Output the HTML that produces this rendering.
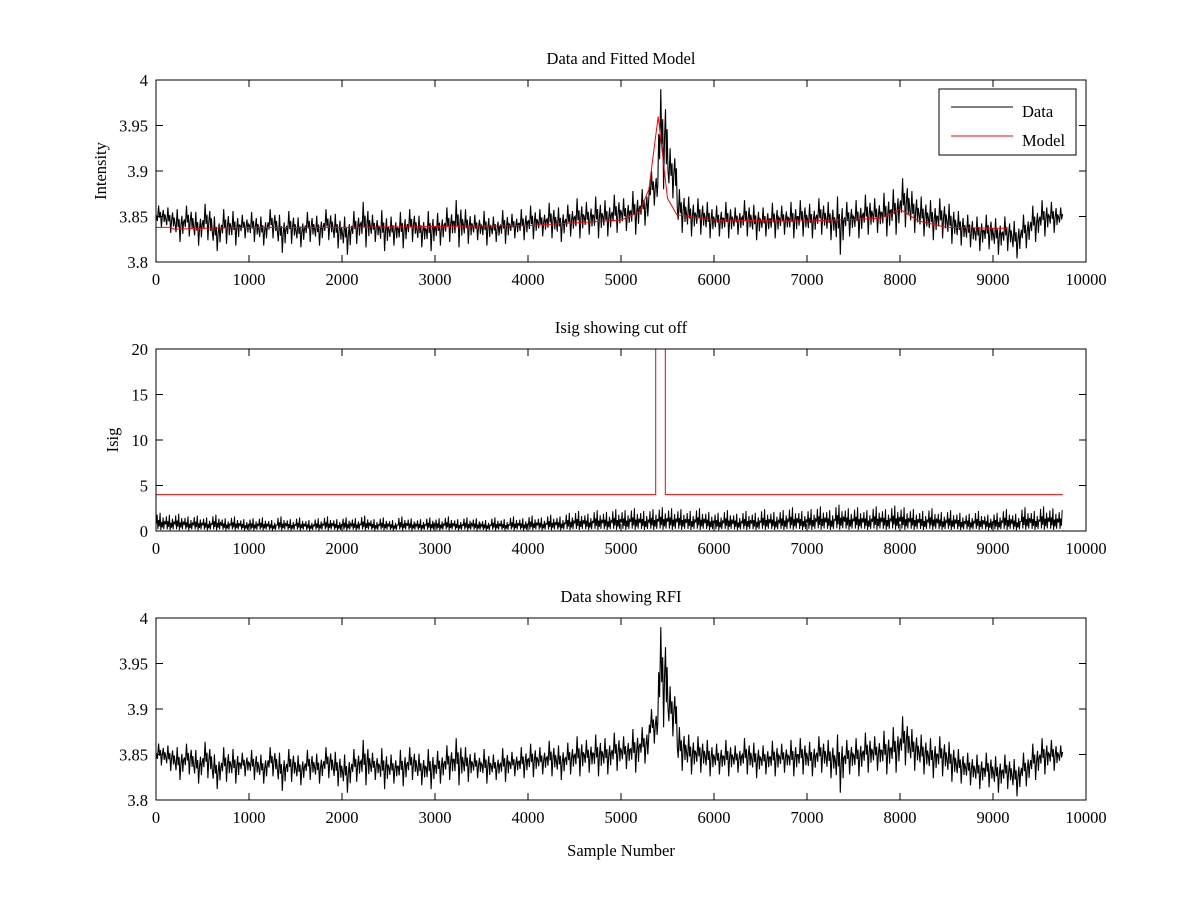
<!DOCTYPE html>
<html><head><meta charset="utf-8"><style>
body{margin:0;background:#fff}
svg text{font-family:"Liberation Serif",serif;font-size:16.5px;fill:#000}
</style></head><body>
<svg id="fig" width="1200" height="900" xmlns="http://www.w3.org/2000/svg"></svg>
<script>
// Data: per 100-sample block, local high and low of the intensity signal
const blockStart = 0, blockSize = 100;
const dataHi = [3.862,3.860,3.858,3.862,3.855,3.864,3.850,3.858,3.856,3.852,
3.855,3.850,3.858,3.852,3.856,3.849,3.855,3.851,3.858,3.853,
3.850,3.856,3.866,3.852,3.857,3.850,3.855,3.858,3.851,3.856,
3.854,3.860,3.868,3.858,3.852,3.856,3.850,3.857,3.853,3.858,
3.862,3.858,3.865,3.860,3.863,3.870,3.866,3.872,3.868,3.874,
3.870,3.878,3.880,3.900,3.990,3.925,3.880,3.872,3.870,3.866,
3.862,3.866,3.860,3.868,3.863,3.860,3.865,3.862,3.866,3.868,
3.864,3.870,3.866,3.872,3.866,3.868,3.874,3.870,3.876,3.880,
3.892,3.878,3.872,3.868,3.870,3.864,3.856,3.852,3.850,3.852,
3.848,3.850,3.845,3.852,3.862,3.868,3.866,3.860];
const dataLo = [3.838,3.832,3.822,3.828,3.818,3.824,3.812,3.820,3.818,3.826,
3.822,3.818,3.826,3.810,3.820,3.816,3.822,3.818,3.824,3.815,
3.808,3.820,3.816,3.822,3.812,3.818,3.815,3.822,3.816,3.812,
3.818,3.822,3.816,3.820,3.824,3.818,3.822,3.820,3.826,3.824,
3.825,3.828,3.826,3.822,3.828,3.826,3.830,3.826,3.828,3.832,
3.834,3.830,3.840,3.862,3.880,3.870,3.832,3.828,3.830,3.826,
3.828,3.826,3.830,3.828,3.824,3.828,3.826,3.830,3.826,3.828,
3.826,3.830,3.824,3.808,3.828,3.826,3.830,3.832,3.828,3.830,
3.838,3.832,3.828,3.824,3.826,3.820,3.818,3.816,3.812,3.814,
3.808,3.812,3.804,3.815,3.822,3.828,3.832,3.836];
const modelX = [0,150,200,500,1000,2000,3000,4000,4500,5000,5200,5300,5400,5500,5600,6000,7000,7800,8000,8200,8500,9000,9150];
const modelY = [3.838,3.838,3.836,3.837,3.838,3.838,3.839,3.840,3.843,3.846,3.855,3.880,3.960,3.870,3.852,3.846,3.845,3.848,3.858,3.845,3.838,3.837,3.837];
const isigHi = [2.0,1.8,1.9,1.6,1.7,1.5,1.8,1.4,1.6,1.3,
1.4,1.5,1.2,1.6,1.3,1.5,1.2,1.4,1.6,1.3,
1.5,1.4,1.7,1.3,1.5,1.2,1.6,1.4,1.3,1.5,
1.4,1.6,1.3,1.5,1.4,1.2,1.5,1.3,1.6,1.4,
1.7,1.5,1.8,1.6,2.0,2.2,1.9,2.3,2.1,2.4,
2.3,2.5,2.2,2.4,2.6,2.5,2.4,2.2,2.5,2.1,
2.0,2.3,1.9,2.2,2.0,2.4,2.1,2.3,2.6,2.2,
2.4,2.7,2.3,2.9,2.5,2.6,2.3,2.7,2.4,2.8,
2.6,2.4,2.2,2.5,2.1,2.3,2.0,1.9,2.2,1.8,
2.0,2.4,1.9,2.6,2.2,2.7,2.5,2.3];
const cutX = [0,5373,5373,5476,5476,9750];
const cutY = [4,4,25,25,4,4];
const xTicks = [0,1000,2000,3000,4000,5000,6000,7000,8000,9000,10000];
const yTicksI = [3.8,3.85,3.9,3.95,4];
const yTickLabI = ["3.8","3.85","3.9","3.95","4"];
const yTicksS = [0,5,10,15,20];

const NS="http://www.w3.org/2000/svg", svg=document.getElementById('fig');
function mk(tag,attrs,parent){const e=document.createElementNS(NS,tag);for(const k in attrs)e.setAttribute(k,attrs[k]);(parent||svg).appendChild(e);return e;}
const L=156,R=1086,XEND=9750;
function sx(v){return L+(v-0)/10000*(R-L);}
function axes(top,bot,ymin,ymax,yt,ylab,title,ylabel,name){
  const g=mk('g',{});
  
  
  const sy=v=>bot-(v-ymin)/(ymax-ymin)*(bot-top);
  const clip=mk('clipPath',{id:'c'+name},g);mk('rect',{x:L,y:top,width:R-L,height:bot-top},clip);
  const plot=mk('g',{'clip-path':'url(#c'+name+')'},g);
  
  
  xTicks.forEach(t=>{const x=sx(t);
    mk('line',{x1:x,x2:x,y1:bot,y2:bot-7,stroke:'#000'},g);mk('line',{x1:x,x2:x,y1:top,y2:top+7,stroke:'#000'},g);
    const tx=mk('text',{x:x,y:bot+23,'text-anchor':'middle'},g);tx.textContent=t;
    
    });
  yt.forEach((t,i)=>{const y=sy(t);
    mk('line',{x1:L,x2:L+7,y1:y,y2:y,stroke:'#000'},g);mk('line',{x1:R,x2:R-7,y1:y,y2:y,stroke:'#000'},g);
    const tx=mk('text',{x:L-8,y:y+6,'text-anchor':'end'},g);tx.textContent=ylab[i];
    
    });
  const tt=mk('text',{x:(L+R)/2,y:top-16,'text-anchor':'middle'},g);tt.textContent=title;
  
  
  const yl=mk('text',{x:0,y:0,'text-anchor':'middle',transform:'translate('+(L-ylabel.off)+','+((top+bot)/2)+') rotate(-90)'},g);yl.textContent=ylabel.t;
  
  
  return {g,plot,sy,top,bot};
}
function dataPts(sy){const p=[];dataHi.forEach((h,i)=>{const b=blockStart+i*blockSize;const d=h-dataLo[i];
  const fr=[[5,0.55],[15,0.3],[28,1],[38,0.45],[48,0.7],[58,0],[68,0.5],[78,0.8],[88,0.25],[96,0.6]];
  fr.forEach(f=>{const x=b+f[0]; if(x<=XEND) p.push([sx(x),sy(dataLo[i]+d*f[1])]);});});return p;}
function poly(pts,color,parent,name,w){const e=mk('polyline',{points:pts.map(p=>p[0].toFixed(1)+','+p[1].toFixed(1)).join(' '),fill:'none',stroke:color,'stroke-width':w||1},parent);
  
  return e;}
function frame(a){mk('rect',{x:L,y:a.top,width:R-L,height:a.bot-a.top,fill:'none',stroke:'#000'},a.g);}

// Panel 1
const a1=axes(80,262,3.8,4,yTicksI,yTickLabI,'Data and Fitted Model',{t:'Intensity',off:50},'panel-data-model');
poly(dataPts(a1.sy),'#000',a1.plot,'data-line',1.1);
poly(modelX.map((x,i)=>[sx(x),a1.sy(modelY[i])]),'#f00',a1.plot,'model-line');
frame(a1);
const lg=mk('g',{});


mk('rect',{x:939,y:89,width:137,height:66,fill:'#fff',stroke:'#000'},lg);
mk('line',{x1:951,x2:1013,y1:107,y2:107,stroke:'#000'},lg);
mk('line',{x1:951,x2:1013,y1:136,y2:136,stroke:'#f00'},lg);
const l1=mk('text',{x:1022,y:117},lg);l1.textContent='Data';


const l2=mk('text',{x:1022,y:146},lg);l2.textContent='Model';



// Panel 2
const a2=axes(349,531,0,20,yTicksS,yTicksS.map(String),'Isig showing cut off',{t:'Isig',off:38},'panel-isig');
const ip=[];isigHi.forEach((h,i)=>{const b=blockStart+i*blockSize;
  const fr=[[4,0.4],[12,0.9],[20,0.1],[28,0.6],[36,0.25],[44,1],[52,0.05],[60,0.5],[68,0.2],[76,0.75],[84,0.1],[92,0.55]];
  fr.forEach(f=>{const x=b+f[0]; if(x<=XEND) ip.push([sx(x),a2.sy(h*f[1])]);});});
poly(ip,'#000',a2.plot,'isig-line');
poly(cutX.map((x,i)=>[sx(x),a2.sy(cutY[i])]),'#f00',a2.plot,'cutoff-line');
frame(a2);

// Panel 3
const a3=axes(618,800,3.8,4,yTicksI,yTickLabI,'Data showing RFI',{t:'',off:50},'panel-rfi');
poly(dataPts(a3.sy),'#000',a3.plot,'rfi-data-line',1.1);
frame(a3);
const xl=mk('text',{x:621,y:856,'text-anchor':'middle'});xl.textContent='Sample Number';


</script>
</body></html>
